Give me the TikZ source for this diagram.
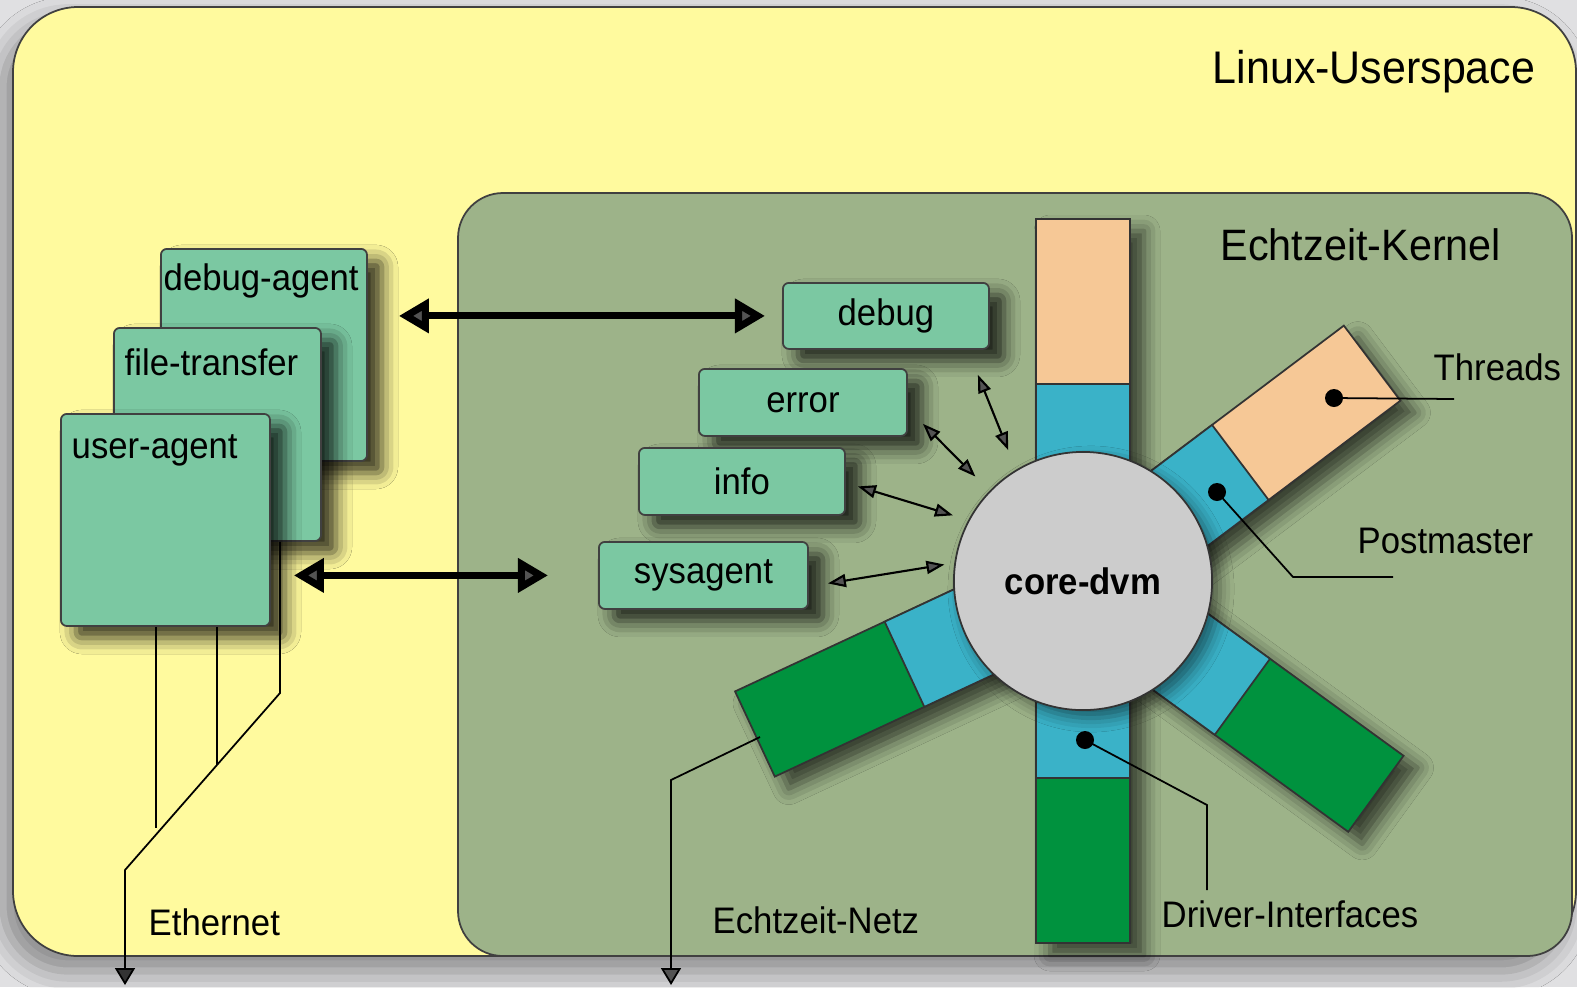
\documentclass[tikz,border=0pt]{standalone}
\usepackage{fontspec}
\setmainfont{Liberation Sans}[FakeStretch=0.94]
\usetikzlibrary{arrows.meta,calc,shadows.blur}
\definecolor{BgClr}{RGB}{224,224,226}
\definecolor{UserClr}{RGB}{255,250,158}
\definecolor{KernelClr}{RGB}{157,179,137}
\definecolor{BoxClr}{RGB}{123,200,162}
\definecolor{ThreadClr}{RGB}{246,200,150}
\definecolor{PortClr}{RGB}{58,178,200}
\definecolor{DrvClr}{RGB}{0,146,62}
\definecolor{CoreClr}{RGB}{204,204,204}

\begin{document}
\begin{tikzpicture}[x=0.01cm,y=-0.01cm,
  lbl/.style={inner sep=0pt,font=\fontsize{10.5}{12}\selectfont},
  box/.style={draw=black!75,line width=0.5pt,fill=BoxClr,rounded corners=0.06cm,
    anchor=north west,inner sep=0pt,font=\fontsize{10.5}{12}\selectfont,
    blur shadow={shadow xshift=0.15cm,shadow yshift=-0.12cm,shadow blur radius=0.16cm,
      shadow opacity=80}},
  arm/.style={draw=black!80,line width=0.5pt,
    blur shadow={shadow xshift=0.14cm,shadow yshift=-0.12cm,shadow blur radius=0.16cm,
      shadow opacity=65}},
  dot/.style={circle,fill=black,inner sep=0pt,minimum size=0.18cm},
  lead/.style={line width=0.5pt},
  tiny/.style={{Triangle[length=0.18cm,width=0.13cm]}-{Triangle[length=0.18cm,width=0.13cm]},line width=0.6pt},
  bigarr/.style={{Triangle[length=0.3cm,width=0.33cm]}-{Triangle[length=0.3cm,width=0.33cm]},line width=2pt}
]
\useasboundingbox (0,0) rectangle (1577,987);
\fill[BgClr] (0,0) rectangle (1577,987);

% Userspace and kernel areas
\filldraw[fill=UserClr,draw=black!75,line width=0.5pt,rounded corners=0.65cm,
  blur shadow={shadow xshift=-0.1cm,shadow yshift=-0.15cm,shadow blur radius=0.25cm,shadow opacity=40}]
  (13,7) rectangle (1576,956);
\filldraw[fill=KernelClr,draw=black!75,line width=0.5pt,rounded corners=0.45cm]
  (458,193) rectangle (1572,956);

\node[lbl,anchor=base east,font=\fontsize{13}{15}\selectfont] (user) at (1536,83) {Linux-Userspace};
\node[lbl,anchor=base west,font=\fontsize{12.5}{15}\selectfont] (kern) at (1220,260) {Echtzeit-Kernel};

% the agents in userspace
\node[box,minimum width=2.06cm,minimum height=2.12cm] (dag) at (160,248) {};
\node[lbl,anchor=base west] (dagtxt) at ([shift={(3,42)}]dag.north west) {debug-agent};
\node[box,minimum width=2.07cm,minimum height=2.13cm] (ftr) at (113,327) {};
\node[lbl,anchor=base west] (ftrtxt) at ([shift={(11,48)}]ftr.north west) {file-transfer};
\node[box,minimum width=2.09cm,minimum height=2.12cm] (uag) at (60,413) {};
\node[lbl,anchor=base west] (uagtxt) at ([shift={(11,45)}]uag.north west) {user-agent};

% Ethernet
\coordinate (e1) at (156,828);
\coordinate (e2) at (217,765);
\coordinate (e3) at (280,693);
\coordinate (ebend) at (125,870);
\coordinate (etip) at (125,985);
\draw[lead] (e1 |- uag.south) -- (e1);
\draw[lead] (e2 |- uag.south) -- (e2);
\draw[lead,-{Triangle[length=0.17cm,width=0.2cm]}] (e3 |- ftr.south) -- (e3) -- (ebend) -- (etip);
\node[lbl,anchor=base west] (eth) at (148,935) {Ethernet};

% kernel services
\node[box,minimum width=2.06cm,minimum height=0.66cm] (dbg) at (782,282) {debug};
\node[box,minimum width=2.08cm,minimum height=0.67cm] (err) at (698,368) {error};
\node[box,minimum width=2.06cm,minimum height=0.67cm] (inf) at (638,447) {info};
\node[box,minimum width=2.09cm,minimum height=0.67cm] (sys) at (598,541) {sysagent};

% the arms round core-dvm
\coordinate (ctr) at (1083,581);
\foreach \ang/\clr in {90/ThreadClr,37/ThreadClr,-36/DrvClr,-90/DrvClr,205/DrvClr}{
  \coordinate (s1) at ($(ctr)+({90-(\ang)}:47)$);
  \coordinate (s2) at ($(ctr)+({-90-(\ang)}:47)$);
  \coordinate (m1) at ($(s1)+({-(\ang)}:197)$);
  \coordinate (m2) at ($(s2)+({-(\ang)}:197)$);
  \coordinate (t1) at ($(s1)+({-(\ang)}:362)$);
  \coordinate (t2) at ($(s2)+({-(\ang)}:362)$);
  \filldraw[arm,fill=\clr] (s1) -- (t1) -- (t2) -- (s2) -- cycle;
  \filldraw[fill=PortClr,draw=black!80,line width=0.5pt] (s1) -- (m1) -- (m2) -- (s2) -- cycle;
}

\node[circle,draw=black!80,line width=0.5pt,fill=CoreClr,minimum size=2.58cm,inner sep=0pt,
  font=\bfseries\fontsize{10.5}{12}\selectfont,
  blur shadow={shadow xshift=0.08cm,shadow yshift=-0.08cm,shadow blur radius=0.14cm,
    shadow opacity=50}]
  (core) at (ctr) {core-dvm};

\node[dot] (thdot) at (1334,398) {};
\node[dot] (pmdot) at (1217,492) {};
\node[dot] (drdot) at (1085,740) {};

\node[lbl,anchor=base west] (thr) at (1433,380) {Threads};
\node[lbl,anchor=base west] (pm) at (1357,553) {Postmaster};
\node[lbl,anchor=base west] (drv) at (1161,927) {Driver-Interfaces};
\node[lbl,anchor=base west] (netz) at (712,933) {Echtzeit-Netz};

% leader lines
\coordinate (thend) at (1454,399);
\coordinate (pmbend) at (1293,577);
\coordinate (pmend) at (1393,577);
\coordinate (drbend) at (1207,805);
\coordinate (drend) at (1207,890);
\coordinate (nzstart) at (760,737);
\coordinate (nzbend) at (671,780);
\coordinate (nztip) at (671,985);
\draw[lead] (thdot.center) -- (thend);
\draw[lead] (pmdot.center) -- (pmbend) -- (pmend);
\draw[lead] (drdot.center) -- (drbend) -- (drend);
\draw[lead,-{Triangle[length=0.17cm,width=0.2cm]}] (nzstart) -- (nzbend) -- (nztip);

% messages
\draw[bigarr,shorten <=0.31cm,shorten >=0.17cm] (dag.east |- dbg.west) -- (dbg.west);
\draw[bigarr,shorten <=0.23cm,shorten >=0.5cm] (uag.east |- sys.west) -- (sys.west);
\draw[tiny,shorten >=0.21cm] ([shift={(-12,25)}]dbg.south east) -- (core.121);
\draw[tiny,shorten >=0.2cm] ([shift={(15,-13)}]err.south east) -- (core.136);
\draw[tiny,shorten >=0.16cm] ([shift={(12,5)}]inf.east) -- (core.152);
\draw[tiny,shorten >=0.1cm] ([shift={(19,8)}]sys.east) -- (core.172);

\end{tikzpicture}
\end{document}
